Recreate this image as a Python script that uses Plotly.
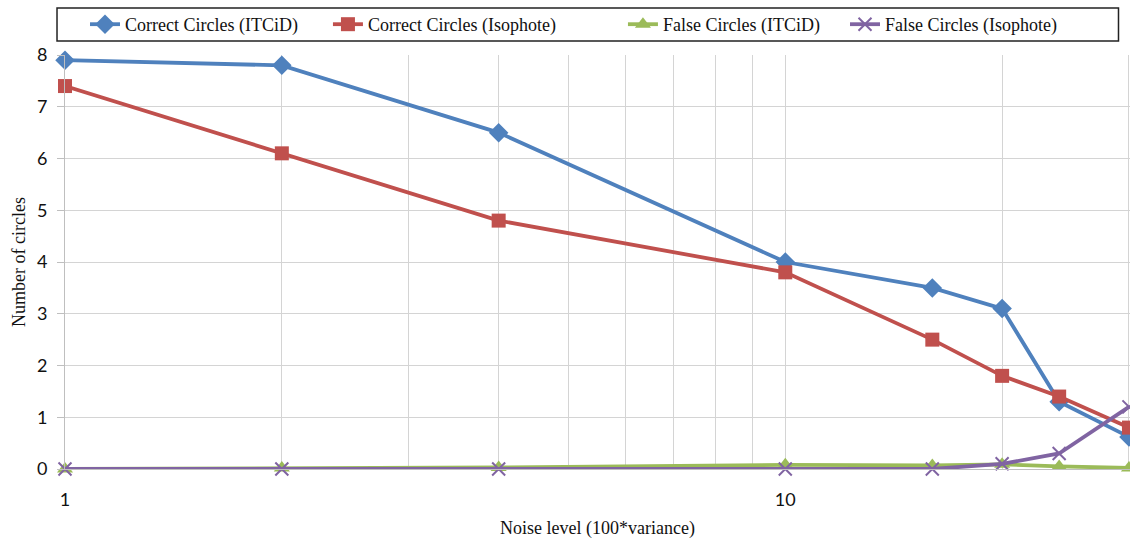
import plotly.graph_objects as go
import math

noise = [1, 2, 4, 10, 16, 20, 24, 30]
correct_itcid = [7.9, 7.8, 6.5, 4.0, 3.5, 3.1, 1.3, 0.62]
correct_iso = [7.4, 6.1, 4.8, 3.8, 2.5, 1.8, 1.4, 0.8]
false_itcid = [0.0, 0.02, 0.03, 0.08, 0.07, 0.09, 0.05, 0.02]
false_iso = [0.0, 0.0, 0.0, 0.0, 0.0, 0.1, 0.3, 1.2]

names = ["Correct Circles (ITCiD)", "Correct Circles (Isophote)",
         "False Circles (ITCiD)", "False Circles (Isophote)"]
series = [correct_itcid, correct_iso, false_itcid, false_iso]
colors = ["#4F81BD", "#C0504D", "#9BBB59", "#8064A2"]
symbols = ["diamond", "square", "triangle-up", "x-thin"]
sizes = [15, 14, 14, 13]
legend_ids = ["legend", "legend2", "legend3", "legend4"]
legend_x = [0.0188, 0.2469, 0.5239, 0.7324]

xtickvals = [1, 2, 3, 4, 5, 6, 7, 8, 9, 10, 20, 30]
xticktext = ["1", "", "", "", "", "", "", "", "", "10", "", ""]
ytickvals = [0, 1, 2, 3, 4, 5, 6, 7, 8]

SERIF = "Times New Roman, Liberation Serif, serif"

fig = go.Figure()
for n, s, c, sym, sz, lg in zip(names, series, colors, symbols, sizes, legend_ids):
    marker = dict(symbol=sym, size=sz, color=c)
    if sym == "x-thin":
        marker["line"] = dict(width=2, color=c)
    fig.add_trace(go.Scatter(x=noise, y=s, name=n, mode="lines+markers",
                             line=dict(color=c, width=3.8), marker=marker,
                             cliponaxis=False, legend=lg))

legend_common = dict(orientation="h", xanchor="left", y=1.0737, yanchor="middle",
                     borderwidth=0, bgcolor="rgba(0,0,0,0)",
                     font=dict(family=SERIF, size=18, color="#111111"))
layout_legends = {}
for lg, lx in zip(legend_ids, legend_x):
    layout_legends[lg] = dict(x=lx, **legend_common)

fig.update_layout(
    width=1130, height=546,
    margin=dict(l=65, r=0, t=55, b=77),
    paper_bgcolor="white", plot_bgcolor="white",
    showlegend=True,
    **layout_legends,
    shapes=[dict(type="rect", xref="paper", yref="paper",
                 x0=-0.0075, x1=0.9892, y0=1.0338, y1=1.1135,
                 line=dict(color="#222222", width=1.5), fillcolor="rgba(0,0,0,0)")],
    xaxis=dict(type="log", range=[0, math.log10(30.1)],
               tickvals=xtickvals, ticktext=xticktext,
               showgrid=True, gridcolor="#d4d4d4", gridwidth=1,
               showline=True, linecolor="#bfbfbf", linewidth=1,
               ticks="outside", ticklen=14, tickcolor="rgba(0,0,0,0)",
               zeroline=False,
               tickfont=dict(family="Lato", size=18, color="#111111"),
               title=dict(text="Noise level (100*variance)", standoff=12,
                          font=dict(family=SERIF, size=18, color="#111111"))),
    yaxis=dict(range=[0, 8], tickvals=ytickvals,
               showgrid=True, gridcolor="#d4d4d4", gridwidth=1,
               showline=True, linecolor="#bfbfbf", linewidth=1,
               ticks="outside", ticklen=7, tickcolor="#bfbfbf",
               ticklabelstandoff=6,
               zeroline=False,
               tickfont=dict(family="Lato", size=18, color="#111111"),
               title=dict(text="Number of circles", standoff=6,
                          font=dict(family=SERIF, size=18, color="#111111"))),
)

fig.write_html("out.html")
